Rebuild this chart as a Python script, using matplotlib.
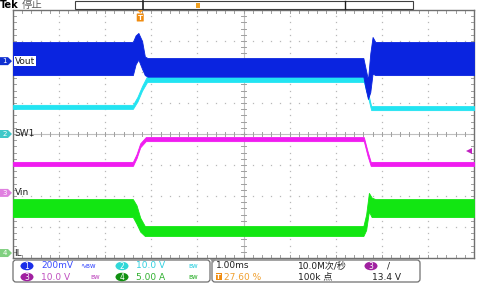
import numpy as np
import matplotlib
matplotlib.use("Agg")
import matplotlib.pyplot as plt
from matplotlib.patches import FancyBboxPatch, Rectangle, Polygon, Ellipse

plt.rcParams['font.family'] = ['DejaVu Sans', 'Noto Sans CJK SC']

# trace envelopes (time in divisions, level in divisions from centre)
ch1_t = [0, 2.60, 2.66, 2.72, 2.80, 2.86, 2.92, 7.60, 7.65, 7.70, 7.75, 7.80, 7.86, 10]
ch1_hi = [2.97, 2.97, 3.18, 3.26, 3.00, 2.50, 2.45, 2.45, 2.10, 1.75, 2.60, 3.13, 2.97, 2.97]
ch1_lo = [1.90, 1.90, 2.25, 2.40, 2.10, 1.90, 1.85, 1.85, 1.45, 1.13, 1.35, 1.95, 1.90, 1.90]

ch2_t = [0, 2.60, 2.70, 2.80, 2.91, 7.61, 7.69, 7.77, 10]
ch2_hi = [0.94, 0.94, 1.20, 1.55, 1.87, 1.87, 1.40, 0.90, 0.90]
ch2_lo = [0.81, 0.81, 1.05, 1.40, 1.68, 1.68, 1.25, 0.77, 0.77]

ch3_t = [0, 2.60, 2.68, 2.76, 2.88, 7.61, 7.69, 7.76, 10]
ch3_hi = [-0.90, -0.90, -0.65, -0.30, -0.10, -0.10, -0.55, -0.90, -0.90]
ch3_lo = [-1.03, -1.03, -0.78, -0.43, -0.23, -0.23, -0.70, -1.03, -1.03]

ch4_t = [0, 2.60, 2.68, 2.76, 2.86, 7.60, 7.66, 7.72, 7.78, 7.86, 10]
ch4_hi = [-2.10, -2.10, -2.30, -2.70, -2.97, -2.97, -2.60, -1.90, -2.05, -2.10, -2.10]
ch4_lo = [-2.68, -2.68, -2.90, -3.15, -3.29, -3.29, -3.10, -2.50, -2.68, -2.68, -2.68]

ch_names = ["Vout", "SW1", "Vin", "IL"]
ch_gnd = [2.35, 0.0, -1.90, -3.84]
ch_scale = ["200mV", "10.0 V", "10.0 V", "5.00 A"]
trig_pos = 2.76
trig_level = -0.56

W, H = 492, 296
fig = plt.figure(figsize=(W / 100, H / 100), dpi=100)
x0, y0, x1, y1 = 13, 10, 474, 258
ax = fig.add_axes([x0 / W, 1 - y1 / H, (x1 - x0) / W, (y1 - y0) / H])
ax.set_xlim(0, 10)
ax.set_ylim(-4, 4)
ax.set_xticks([])
ax.set_yticks([])
for s in ax.spines.values():
    s.set_color("#707070")
    s.set_linewidth(1.0)

# graticule dots
gcol = "#b8b8b8"
for k in range(1, 10):
    ys = np.arange(-4, 4.01, 0.2)
    ax.plot(np.full(len(ys), k), ys, ls="none", marker="s", ms=0.9, color=gcol, mew=0, zorder=1)
for k in range(-3, 4):
    xs = np.arange(0, 10.01, 0.2)
    ax.plot(xs, np.full(len(xs), k), ls="none", marker="s", ms=0.9, color=gcol, mew=0, zorder=1)
# centre lines with ticks
ax.axhline(0, color="#c0c0c0", lw=0.8, zorder=1)
ax.axvline(5, color="#c0c0c0", lw=0.8, zorder=1)
for xv in np.arange(0, 10.01, 0.2):
    ax.plot([xv, xv], [-0.07, 0.07], color="#a0a0a0", lw=0.7, zorder=1)
    ax.plot([xv, xv], [4, 3.9], color="#a0a0a0", lw=0.7, zorder=1)
    ax.plot([xv, xv], [-4, -3.9], color="#a0a0a0", lw=0.7, zorder=1)
for yv in np.arange(-4, 4.01, 0.2):
    ax.plot([4.95, 5.05], [yv, yv], color="#a0a0a0", lw=0.7, zorder=1)
    ax.plot([0, 0.06], [yv, yv], color="#a0a0a0", lw=0.7, zorder=1)
    ax.plot([10, 9.94], [yv, yv], color="#a0a0a0", lw=0.7, zorder=1)

# traces
ax.fill_between(ch4_t, ch4_lo, ch4_hi, color="#12e612", lw=0.6, ec="#12e612", zorder=3)
ax.fill_between(ch3_t, ch3_lo, ch3_hi, color="#f01cf0", lw=0.6, ec="#f01cf0", zorder=3)
ax.fill_between(ch2_t, ch2_lo, ch2_hi, color="#22e4f2", lw=0.6, ec="#22e4f2", zorder=3)
ax.fill_between(ch1_t, ch1_lo, ch1_hi, color="#0a24e0", lw=0.6, ec="#0a24e0", zorder=3)

# trigger level arrow
ax.plot([9.9], [trig_level], marker="<", ms=4, color="#c020c0", mew=0, clip_on=False, zorder=4)

# overlay in pixel coordinates
ov = fig.add_axes([0, 0, 1, 1], zorder=5)
ov.set_xlim(0, W)
ov.set_ylim(H, 0)
ov.axis("off")
fs = 6.5

ov.text(0, 5, "Tek", fontsize=7, fontweight="bold", va="center", ha="left")
ov.text(22, 5, "停止", fontsize=7.5, color="#606060", va="center", ha="left")
ov.add_patch(Rectangle((75, 0.5), 338, 8.5, fc="white", ec="#404040", lw=0.8))
ov.plot([143, 143], [0.5, 9], color="#202020", lw=1.2)
ov.plot([345, 345], [0.5, 9], color="#202020", lw=1.0)
ov.add_patch(Rectangle((196, 3), 4, 5, fc="#f0a020", ec="none"))
# trigger position marker
tx = x0 + trig_pos * (x1 - x0) / 10
ov.add_patch(Polygon([[tx - 3, 10], [tx + 3, 10], [tx, 13]], fc="#f08c10", ec="none"))
ov.add_patch(FancyBboxPatch((tx - 3, 14), 6, 7, boxstyle="round,pad=0.5", fc="#f08c10", ec="none"))
ov.text(tx, 17.8, "T", fontsize=5, color="white", ha="center", va="center", fontweight="bold")

# channel markers
mcol = ["#1030d0", "#40c8c8", "#e080e0", "#80d080"]
for i in range(4):
    py = 134 - 31 * ch_gnd[i]
    ov.add_patch(Polygon([[0, py - 4], [8, py - 4], [12, py], [8, py + 4], [0, py + 4]],
                         fc=mcol[i], ec="none"))
    ov.text(4.5, py + 0.3, str(i + 1), fontsize=5, color="white", ha="center", va="center")
    ov.text(14.5, py, ch_names[i], fontsize=fs, color="#202020", ha="left", va="center",
            bbox=dict(fc="white", ec="none", pad=0.6) if i == 0 else None)

# bottom panels
ov.add_patch(FancyBboxPatch((13, 260), 197, 22, boxstyle="round,pad=0,rounding_size=3",
                            fc="white", ec="#707070", lw=0.9))
ov.add_patch(FancyBboxPatch((212, 260), 208, 22, boxstyle="round,pad=0,rounding_size=3",
                            fc="white", ec="#707070", lw=0.9))
ov.add_patch(Polygon([[210, 259], [216, 259], [213, 263]], fc="#909090", ec="none"))

circ = ["#1a2ee8", "#30d8d8", "#a020a0", "#109010"]
tcol = ["#3a4cff", "#30d0e0", "#c050c0", "#30b030"]
cx = [27, 122, 27, 122]
cy = [266, 266, 277, 277]
icons = ["∿ʙw", "ʙw", "ʙw", "ʙw"]
icx = [80, 188, 90, 188]
for i in range(4):
    ov.add_patch(Ellipse((cx[i], cy[i]), 13, 8.5, fc=circ[i], ec="none"))
    ov.text(cx[i], cy[i] + 0.3, str(i + 1), fontsize=5.5, color="white", ha="center", va="center")
    ov.text(cx[i] + 14, cy[i], ch_scale[i], fontsize=fs, color=tcol[i], ha="left", va="center")
    ov.text(icx[i], cy[i], icons[i], fontsize=5, color=tcol[i], ha="left", va="center")

ov.text(216, 266, "1.00ms", fontsize=fs, color="#202020", ha="left", va="center")
ov.add_patch(Rectangle((215.5, 273), 6, 7, fc="#f08c10", ec="none"))
ov.text(218.5, 276.7, "T", fontsize=5, color="white", ha="center", va="center", fontweight="bold")
ov.text(224, 277, "27.60 %", fontsize=fs, color="#f0a030", ha="left", va="center")
ov.text(298, 266, "10.0M次/秒", fontsize=fs, color="#202020", ha="left", va="center")
ov.text(298, 277, "100k 点", fontsize=fs, color="#202020", ha="left", va="center")
ov.add_patch(Ellipse((371, 266), 13, 8.5, fc="#a020a0", ec="none"))
ov.text(371, 266.3, "3", fontsize=5.5, color="white", ha="center", va="center")
ov.text(387, 266, "/", fontsize=fs, color="#202020", ha="left", va="center")
ov.text(372, 277, "13.4 V", fontsize=fs, color="#202020", ha="left", va="center")

fig.savefig("out.png", dpi=100)
